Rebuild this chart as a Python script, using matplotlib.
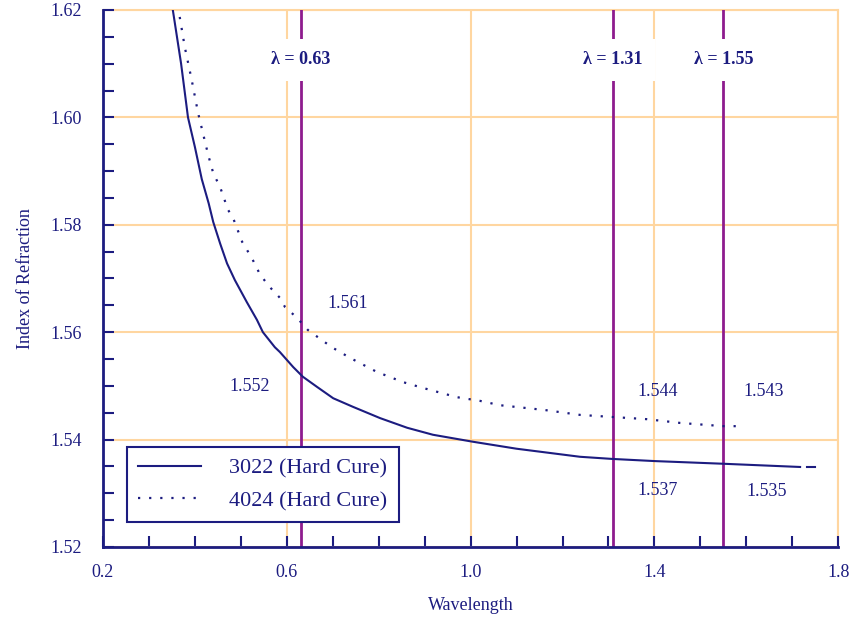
import matplotlib
matplotlib.use("Agg")
import matplotlib.pyplot as plt
from matplotlib.ticker import MultipleLocator, FixedLocator, FormatStrFormatter

# Data
wl_3022 = [0.352, 0.37, 0.385, 0.40, 0.415, 0.43, 0.44, 0.455, 0.47, 0.487, 0.513, 0.535, 0.548,
           0.574, 0.585, 0.614, 0.635, 0.666, 0.701, 0.744, 0.803, 0.862, 0.918, 1.005, 1.10,
           1.238, 1.308, 1.40, 1.55, 1.717]
n_3022 = [1.620, 1.610, 1.600, 1.5945, 1.5885, 1.5840, 1.5805, 1.5765, 1.5728, 1.5697, 1.5656, 1.5623,
          1.5600, 1.5572, 1.5563, 1.5535, 1.5517, 1.5498, 1.5477, 1.5461, 1.5440, 1.5422, 1.5409,
          1.5396, 1.5383, 1.5368, 1.5364, 1.5360, 1.5355, 1.5349]
wl_3022_tail = [1.733, 1.75]
n_3022_tail = [1.5349, 1.5349]

wl_4024 = [0.367, 0.378, 0.393, 0.407, 0.429, 0.44, 0.455, 0.472, 0.483, 0.503, 0.524, 0.542, 0.563,
           0.585, 0.596, 0.622, 0.646, 0.698, 0.738, 0.796, 0.853, 0.897, 0.97, 1.021, 1.064, 1.162,
           1.238, 1.31, 1.384, 1.456, 1.55, 1.59]
n_4024 = [1.6187, 1.6131, 1.607, 1.6008, 1.593, 1.5896, 1.587, 1.5828, 1.5813, 1.5768, 1.5738, 1.5707,
          1.5684, 1.5664, 1.5647, 1.5627, 1.5604, 1.5572, 1.5552, 1.5526, 1.5507, 1.5496, 1.5479,
          1.5472, 1.5464, 1.5455, 1.5446, 1.5442, 1.5438, 1.5431, 1.5425, 1.5425]

marker_wl = [0.63, 1.31, 1.55]
marker_labels = ["λ = 0.63", "λ = 1.31", "λ = 1.55"]

value_labels = ["1.561", "1.552", "1.544", "1.543", "1.537", "1.535"]
value_pos = [(0.733, 1.5654), (0.52, 1.5498), (1.406, 1.5489), (1.637, 1.5489), (1.406, 1.5306),
             (1.645, 1.5304)]

x_major = [0.2, 0.6, 1.0, 1.4, 1.8]
series_names = ["3022 (Hard Cure)", "4024 (Hard Cure)"]

navy = "#1c1c80"
purple = "#8e1c8e"
orange = "#ffd6a0"
serif = ["Liberation Serif", "DejaVu Serif"]

fig = plt.figure(figsize=(8.51, 6.23), dpi=100)
ax = fig.add_axes([0.121, 0.122, 0.864, 0.862])

ax.set_xlim(0.2, 1.8)
ax.set_ylim(1.52, 1.62)

ax.xaxis.set_major_locator(FixedLocator(x_major))
ax.xaxis.set_minor_locator(MultipleLocator(0.1))
ax.yaxis.set_major_locator(MultipleLocator(0.02))
ax.yaxis.set_minor_locator(MultipleLocator(0.005))

ax.grid(True, which="major", color=orange, linewidth=1.5, zorder=0)
ax.set_axisbelow(True)
ax.axhline(1.62, color=orange, linewidth=1.5, zorder=0, clip_on=False)
ax.axvline(1.8, color=orange, linewidth=1.5, zorder=0, clip_on=False)

for s in ["top", "right"]:
    ax.spines[s].set_visible(False)
for s in ["left", "bottom"]:
    ax.spines[s].set_color(navy)
    ax.spines[s].set_linewidth(2)

ax.tick_params(which="both", direction="in", color=navy, width=1.5, labelcolor=navy,
               labelsize=13, length=8)
ax.tick_params(axis="x", pad=12)
ax.tick_params(axis="y", pad=15)
ax.xaxis.set_major_formatter(FormatStrFormatter("%.1f"))
ax.yaxis.set_major_formatter(FormatStrFormatter("%.2f"))
for lab in ax.get_xticklabels() + ax.get_yticklabels():
    lab.set_fontfamily(serif)

for v in marker_wl:
    ax.axvline(v, color=purple, linewidth=2, zorder=2)

l1, = ax.plot(wl_3022, n_3022, color=navy, linewidth=1.5, zorder=3, label=series_names[0])
ax.plot(wl_3022_tail, n_3022_tail, color=navy, linewidth=1.5, zorder=3)
l2, = ax.plot(wl_4024, n_4024, color=navy, linewidth=1.6, linestyle=(0, (1, 4)), zorder=3,
              label=series_names[1])

for v, t in zip(marker_wl, marker_labels):
    ax.text(v, 1.6107, t, ha="center", va="center", fontsize=13, fontweight="bold",
            color=navy, family=serif, zorder=5,
            bbox=dict(facecolor="white", edgecolor="none", pad=9))

for t, (x, y) in zip(value_labels, value_pos):
    ax.text(x, y, t, ha="center", va="center", fontsize=13, color=navy, family=serif, zorder=5)

leg = ax.legend(handles=[l1, l2], loc="lower left", bbox_to_anchor=(0.033, 0.046),
                frameon=True, fancybox=False, edgecolor=navy, framealpha=1,
                prop={"family": serif, "size": 16}, handlelength=2.8, handletextpad=1.3,
                borderpad=0.5, labelspacing=0.55, borderaxespad=0)
leg.get_frame().set_linewidth(1.5)
for t in leg.get_texts():
    t.set_color(navy)

ax.set_xlabel("Wavelength", color=navy, fontsize=13, family=serif, labelpad=12)
ax.set_ylabel("Index of Refraction", color=navy, fontsize=13, family=serif, labelpad=12)

fig.savefig("out.png", dpi=100)
